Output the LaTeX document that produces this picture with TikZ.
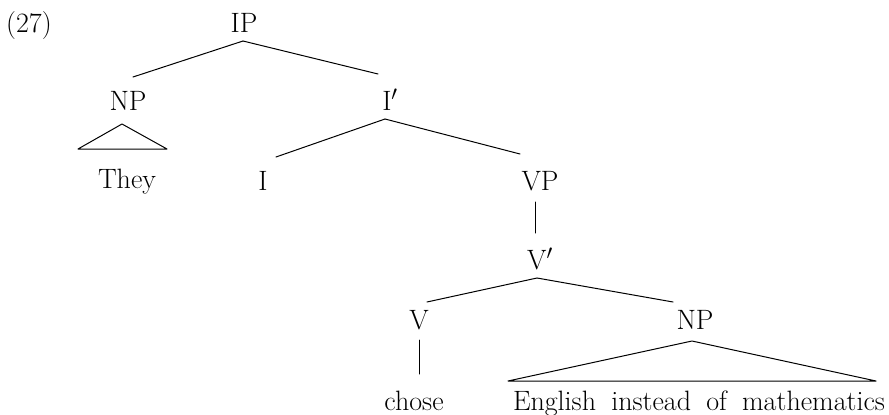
\documentclass[tikz,border=0pt]{standalone}
\begin{document}
\begin{tikzpicture}[x=1pt,y=-1pt,
  lbl/.style={anchor=base,inner sep=0pt,font=\fontsize{28}{33}\selectfont},
  branch/.style={line width=1pt,line cap=round,line join=round}]
\useasboundingbox (0,0) rectangle (889,415);
% example number
\node[lbl,anchor=base west] (ex) at (6,32) {(27)};
% category labels and words
\node[lbl] (IP)   at (244,32)  {IP};
\node[lbl] (NPa)  at (128,110) {NP};
\node[lbl] (Ibar) at (390,110) {I$'$};
\node[lbl] (they) at (127,188) {They};
\node[lbl] (I)    at (263,190) {I};
\node[lbl] (VP)   at (540,190) {VP};
\node[lbl] (Vbar) at (540,269) {V$'$};
\node[lbl] (V)    at (419,329) {V};
\node[lbl] (NPb)  at (695,329) {NP};
\node[lbl] (chose) at (414,410) {chose};
\node[lbl] (obj)  at (699,410) {\makebox[372pt][s]{English instead of mathematics}};
% branches
\draw[branch] ([shift={(-1,9)}]IP.base) -- ([shift={(5,-33)}]NPa.base);
\draw[branch] ([shift={(-1,9)}]IP.base) -- ([shift={(-12,-36)}]Ibar.base);
\draw[branch] ([shift={(-6,14)}]NPa.base) -- ([shift={(-50,39)}]NPa.base)
  -- ([shift={(39,39)}]NPa.base) -- cycle;
\draw[branch] ([shift={(-5,9)}]Ibar.base) -- ([shift={(13,-33)}]I.base);
\draw[branch] ([shift={(-5,9)}]Ibar.base) -- ([shift={(-20,-36)}]VP.base);
\draw[branch] ([shift={(-5,12)}]VP.base) -- ([shift={(-5,-36)}]Vbar.base);
\draw[branch] ([shift={(-3,9)}]Vbar.base) -- ([shift={(8,-27)}]V.base);
\draw[branch] ([shift={(-3,9)}]Vbar.base) -- ([shift={(-22,-27)}]NPb.base);
\draw[branch] ([shift={(0,11)}]V.base) -- ([shift={(5,-36)}]chose.base);
\draw[branch] ([shift={(-3,12)}]NPb.base) -- ([shift={(-187,52)}]NPb.base)
  -- ([shift={(181,52)}]NPb.base) -- cycle;
\end{tikzpicture}
\end{document}
